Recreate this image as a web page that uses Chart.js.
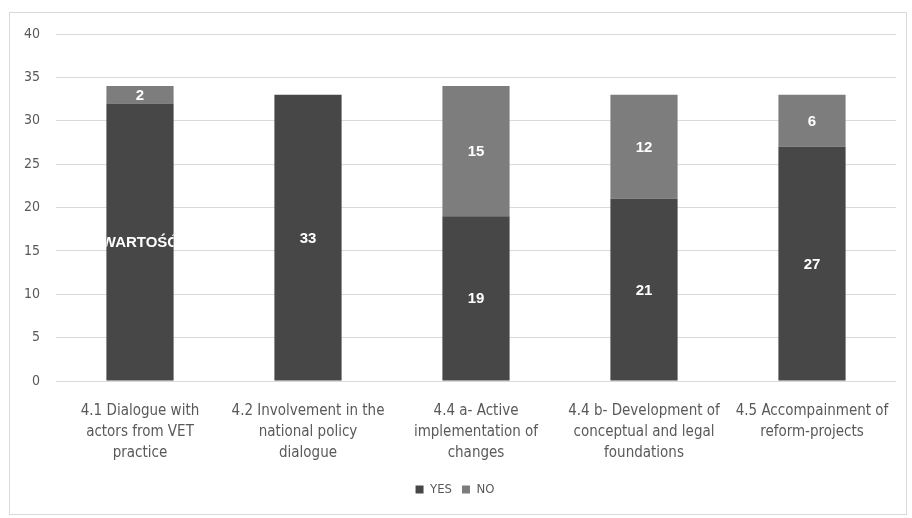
<!DOCTYPE html>
<html>
<head>
<meta charset="utf-8">
<script src="https://cdn.jsdelivr.net/npm/chart.js@4.4.1/dist/chart.umd.min.js"></script>
<style>
  html, body { margin: 0; padding: 0; background: #fff; }
  #wrap { position: absolute; left: 0; top: 0; width: 912px; height: 518px; }
</style>
</head>
<body>
<div id="wrap"><canvas id="grafica" width="912" height="518"></canvas></div>
<script>
// categorias y valores
const categorias = [
  ['4.1 Dialogue with', 'actors from VET', 'practice'],
  ['4.2 Involvement in the', 'national policy', 'dialogue'],
  ['4.4 a- Active', 'implementation of', 'changes'],
  ['4.4 b- Development of', 'conceptual and legal', 'foundations'],
  ['4.5 Accompainment of', 'reform-projects']
];
const valoresSi = [32, 33, 19, 21, 27];
const valoresNo = [2, 0, 15, 12, 6];
// texto de la etiqueta del primer segmento (null = usar el valor)
const etiquetasSi = ['[WARTOŚĆ]', null, null, null, null];
const ticksY = [0, 5, 10, 15, 20, 25, 30, 35, 40];

const fuente = "'Liberation Sans Narrow', 'DejaVu Sans Condensed', 'Open Sans', sans-serif";

// fondo blanco y marco gris
const marco = {
  id: 'marco',
  beforeDraw(chart) {
    const ctx = chart.ctx;
    ctx.save();
    ctx.fillStyle = '#ffffff';
    ctx.fillRect(0, 0, chart.width, chart.height);
    ctx.strokeStyle = '#d9d9d9';
    ctx.lineWidth = 1;
    ctx.strokeRect(9.5, 12.5, 897, 502);
    ctx.restore();
  }
};

// etiquetas blancas dentro de cada segmento, recortadas al ancho de la barra
const etiquetas = {
  id: 'etiquetas',
  afterDatasetsDraw(chart) {
    const ctx = chart.ctx;
    ctx.save();
    ctx.font = 'bold 15px Arial, "Liberation Sans", sans-serif';
    ctx.fillStyle = '#ffffff';
    ctx.textAlign = 'center';
    ctx.textBaseline = 'middle';
    chart.data.datasets.forEach((ds, i) => {
      chart.getDatasetMeta(i).data.forEach((bar, j) => {
        const v = ds.data[j];
        if (!v) return;
        const txt = (ds.etiquetas && ds.etiquetas[j]) || String(v);
        const p = bar.getProps(['x', 'y', 'base', 'width'], true);
        ctx.save();
        ctx.beginPath();
        ctx.rect(p.x - p.width / 2, Math.min(p.y, p.base), p.width, Math.abs(p.base - p.y));
        ctx.clip();
        ctx.fillText(txt, p.x, (p.y + p.base) / 2 + 1);
        ctx.restore();
      });
    });
    ctx.restore();
  }
};

new Chart(document.getElementById('grafica').getContext('2d'), {
  type: 'bar',
  data: {
    labels: categorias,
    datasets: [
      { label: 'YES', data: valoresSi, etiquetas: etiquetasSi, backgroundColor: '#474747' },
      { label: 'NO', data: valoresNo, backgroundColor: '#7d7d7d' }
    ]
  },
  options: {
    responsive: false,
    animation: false,
    categoryPercentage: 1,
    barPercentage: 0.4,
    layout: { padding: { left: 14, right: 16, top: 34, bottom: 12 } },
    plugins: {
      tooltip: { enabled: false },
      legend: {
        position: 'bottom',
        labels: {
          boxWidth: 8, boxHeight: 8, padding: 10,
          color: '#595959',
          font: { family: fuente, size: 13 }
        }
      }
    },
    scales: {
      x: {
        stacked: true,
        grid: { display: false },
        border: { display: false },
        ticks: {
          color: '#595959', padding: 12, maxRotation: 0, autoSkip: false,
          font: { family: fuente, size: 15, lineHeight: 1.4 }
        },
        afterFit(scale) { scale.height = 92; }
      },
      y: {
        stacked: true,
        min: 0, max: 40,
        afterBuildTicks(scale) { scale.ticks = ticksY.map(v => ({ value: v })); },
        grid: { color: '#d9d9d9', drawTicks: false },
        border: { display: false },
        ticks: {
          color: '#595959', padding: 16,
          font: { family: fuente, size: 14 }
        },
        afterFit(scale) { scale.width = 42; }
      }
    }
  },
  plugins: [marco, etiquetas]
});
</script>
</body>
</html>
